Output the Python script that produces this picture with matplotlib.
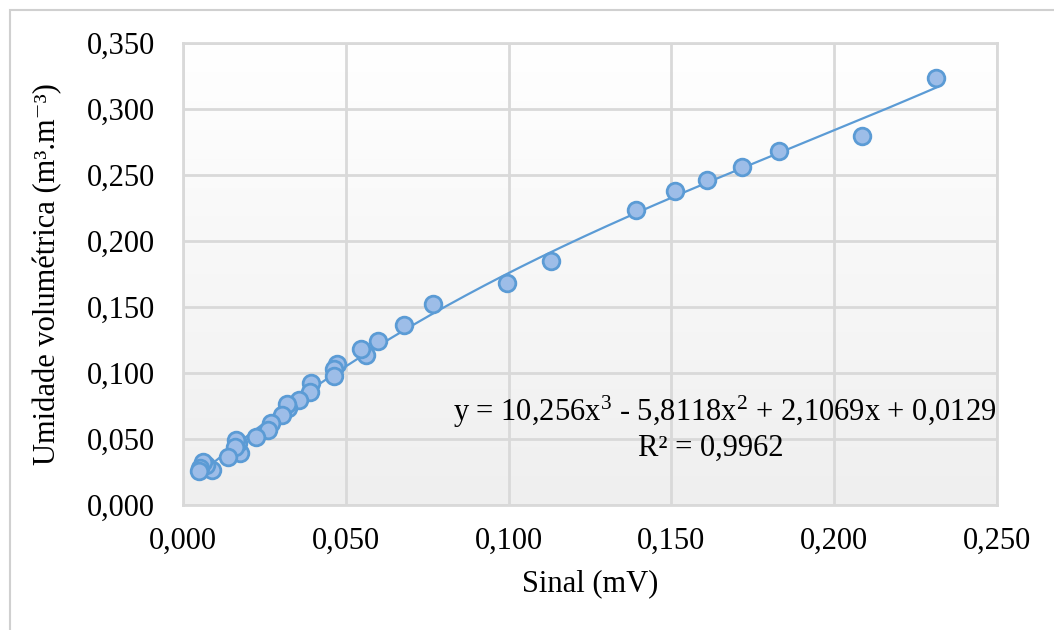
import matplotlib.pyplot as plt
import matplotlib.patches as mpatches
from matplotlib.colors import LinearSegmentedColormap
import numpy as np

# dados
sinal = [0.2313, 0.2086, 0.1831, 0.1718, 0.1610, 0.1512, 0.1390, 0.1130, 0.0994,
         0.0767, 0.0680, 0.0598, 0.0561, 0.0546, 0.0472, 0.0463, 0.0463, 0.0393,
         0.0390, 0.0356, 0.0322, 0.0319, 0.0304, 0.0270, 0.0260, 0.0224, 0.0175,
         0.0169, 0.0163, 0.0160, 0.0138, 0.0089, 0.0071, 0.0061, 0.0052, 0.0049]
umidade = [0.3235, 0.2795, 0.2680, 0.2560, 0.2460, 0.2380, 0.2235, 0.1850, 0.1680,
           0.1520, 0.1360, 0.1240, 0.1136, 0.1180, 0.1070, 0.1030, 0.0977, 0.0924,
           0.0856, 0.0795, 0.0735, 0.0765, 0.0680, 0.0620, 0.0568, 0.0515, 0.0394,
           0.0470, 0.0490, 0.0440, 0.0364, 0.0265, 0.0300, 0.0326, 0.0280, 0.0258]
coef = [10.256, -5.8118, 2.1069, 0.0129]
r2 = 0.9962

xticks = [0, 0.05, 0.10, 0.15, 0.20, 0.25]
yticks = [0, 0.05, 0.10, 0.15, 0.20, 0.25, 0.30, 0.35]

plt.rcParams['font.family'] = ['Liberation Serif', 'DejaVu Serif']
plt.rcParams['mathtext.fontset'] = 'custom'
plt.rcParams['mathtext.rm'] = 'Liberation Serif'
plt.rcParams['mathtext.it'] = 'Liberation Serif:italic'

W, H = 1054, 630
fig = plt.figure(figsize=(W / 100, H / 100), dpi=100)
ax = fig.add_axes([183 / W, 1 - 505 / H, (997 - 183) / W, (505 - 43) / H])

# moldura externa
fig.add_artist(mpatches.Rectangle((10 / W, -0.1), 1.2, 1 - 10 / H + 0.1,
                                  transform=fig.transFigure, fill=False,
                                  edgecolor='#d0d0d0', lw=1.5))

# fundo em gradiente
cmap = LinearSegmentedColormap.from_list('fundo', ['#efefef', '#ffffff'])
grad = np.linspace(0, 1, 256).reshape(-1, 1)
ax.imshow(grad, extent=[0, 0.25, 0, 0.35], aspect='auto', cmap=cmap,
          zorder=0, origin='lower')

ax.set_xlim(0, 0.25)
ax.set_ylim(0, 0.35)
ax.set_xticks(xticks)
ax.set_yticks(yticks)
ax.set_xticklabels([f'{v:.3f}'.replace('.', ',') for v in xticks])
ax.set_yticklabels([f'{v:.3f}'.replace('.', ',') for v in yticks])
ax.tick_params(length=0, labelsize=22, colors='black')
ax.tick_params(axis='y', pad=20)
ax.tick_params(axis='x', pad=16)
ax.grid(True, color='#d9d9d9', lw=2)
ax.set_axisbelow(True)
for s in ax.spines.values():
    s.set_color('#d9d9d9')
    s.set_linewidth(2)

xs = np.linspace(min(sinal), max(sinal), 200)
ax.plot(xs, np.polyval(coef, xs), color='#5b9bd5', lw=1.6, zorder=3)
ax.plot(sinal, umidade, 'o', ms=12, mfc='#9dbde8', mec='#5b9bd5', mew=2, zorder=4)

ax.text(0.1665, 0.0705,
        r'y = 10,256x$^{\mathrm{3}}$ - 5,8118x$^{\mathrm{2}}$ + 2,1069x + 0,0129',
        fontsize=22, ha='center', va='center')
ax.text(0.162, 0.0432, f'R² = {r2:.4f}'.replace('.', ','), fontsize=22,
        ha='center', va='center')

ax.set_xlabel('Sinal (mV)', fontsize=22, labelpad=9)
ax.set_ylabel('Umidade volumétrica (m³.m⁻³)', fontsize=22, labelpad=18)

plt.savefig('out.png', dpi=100)
plt.close()
